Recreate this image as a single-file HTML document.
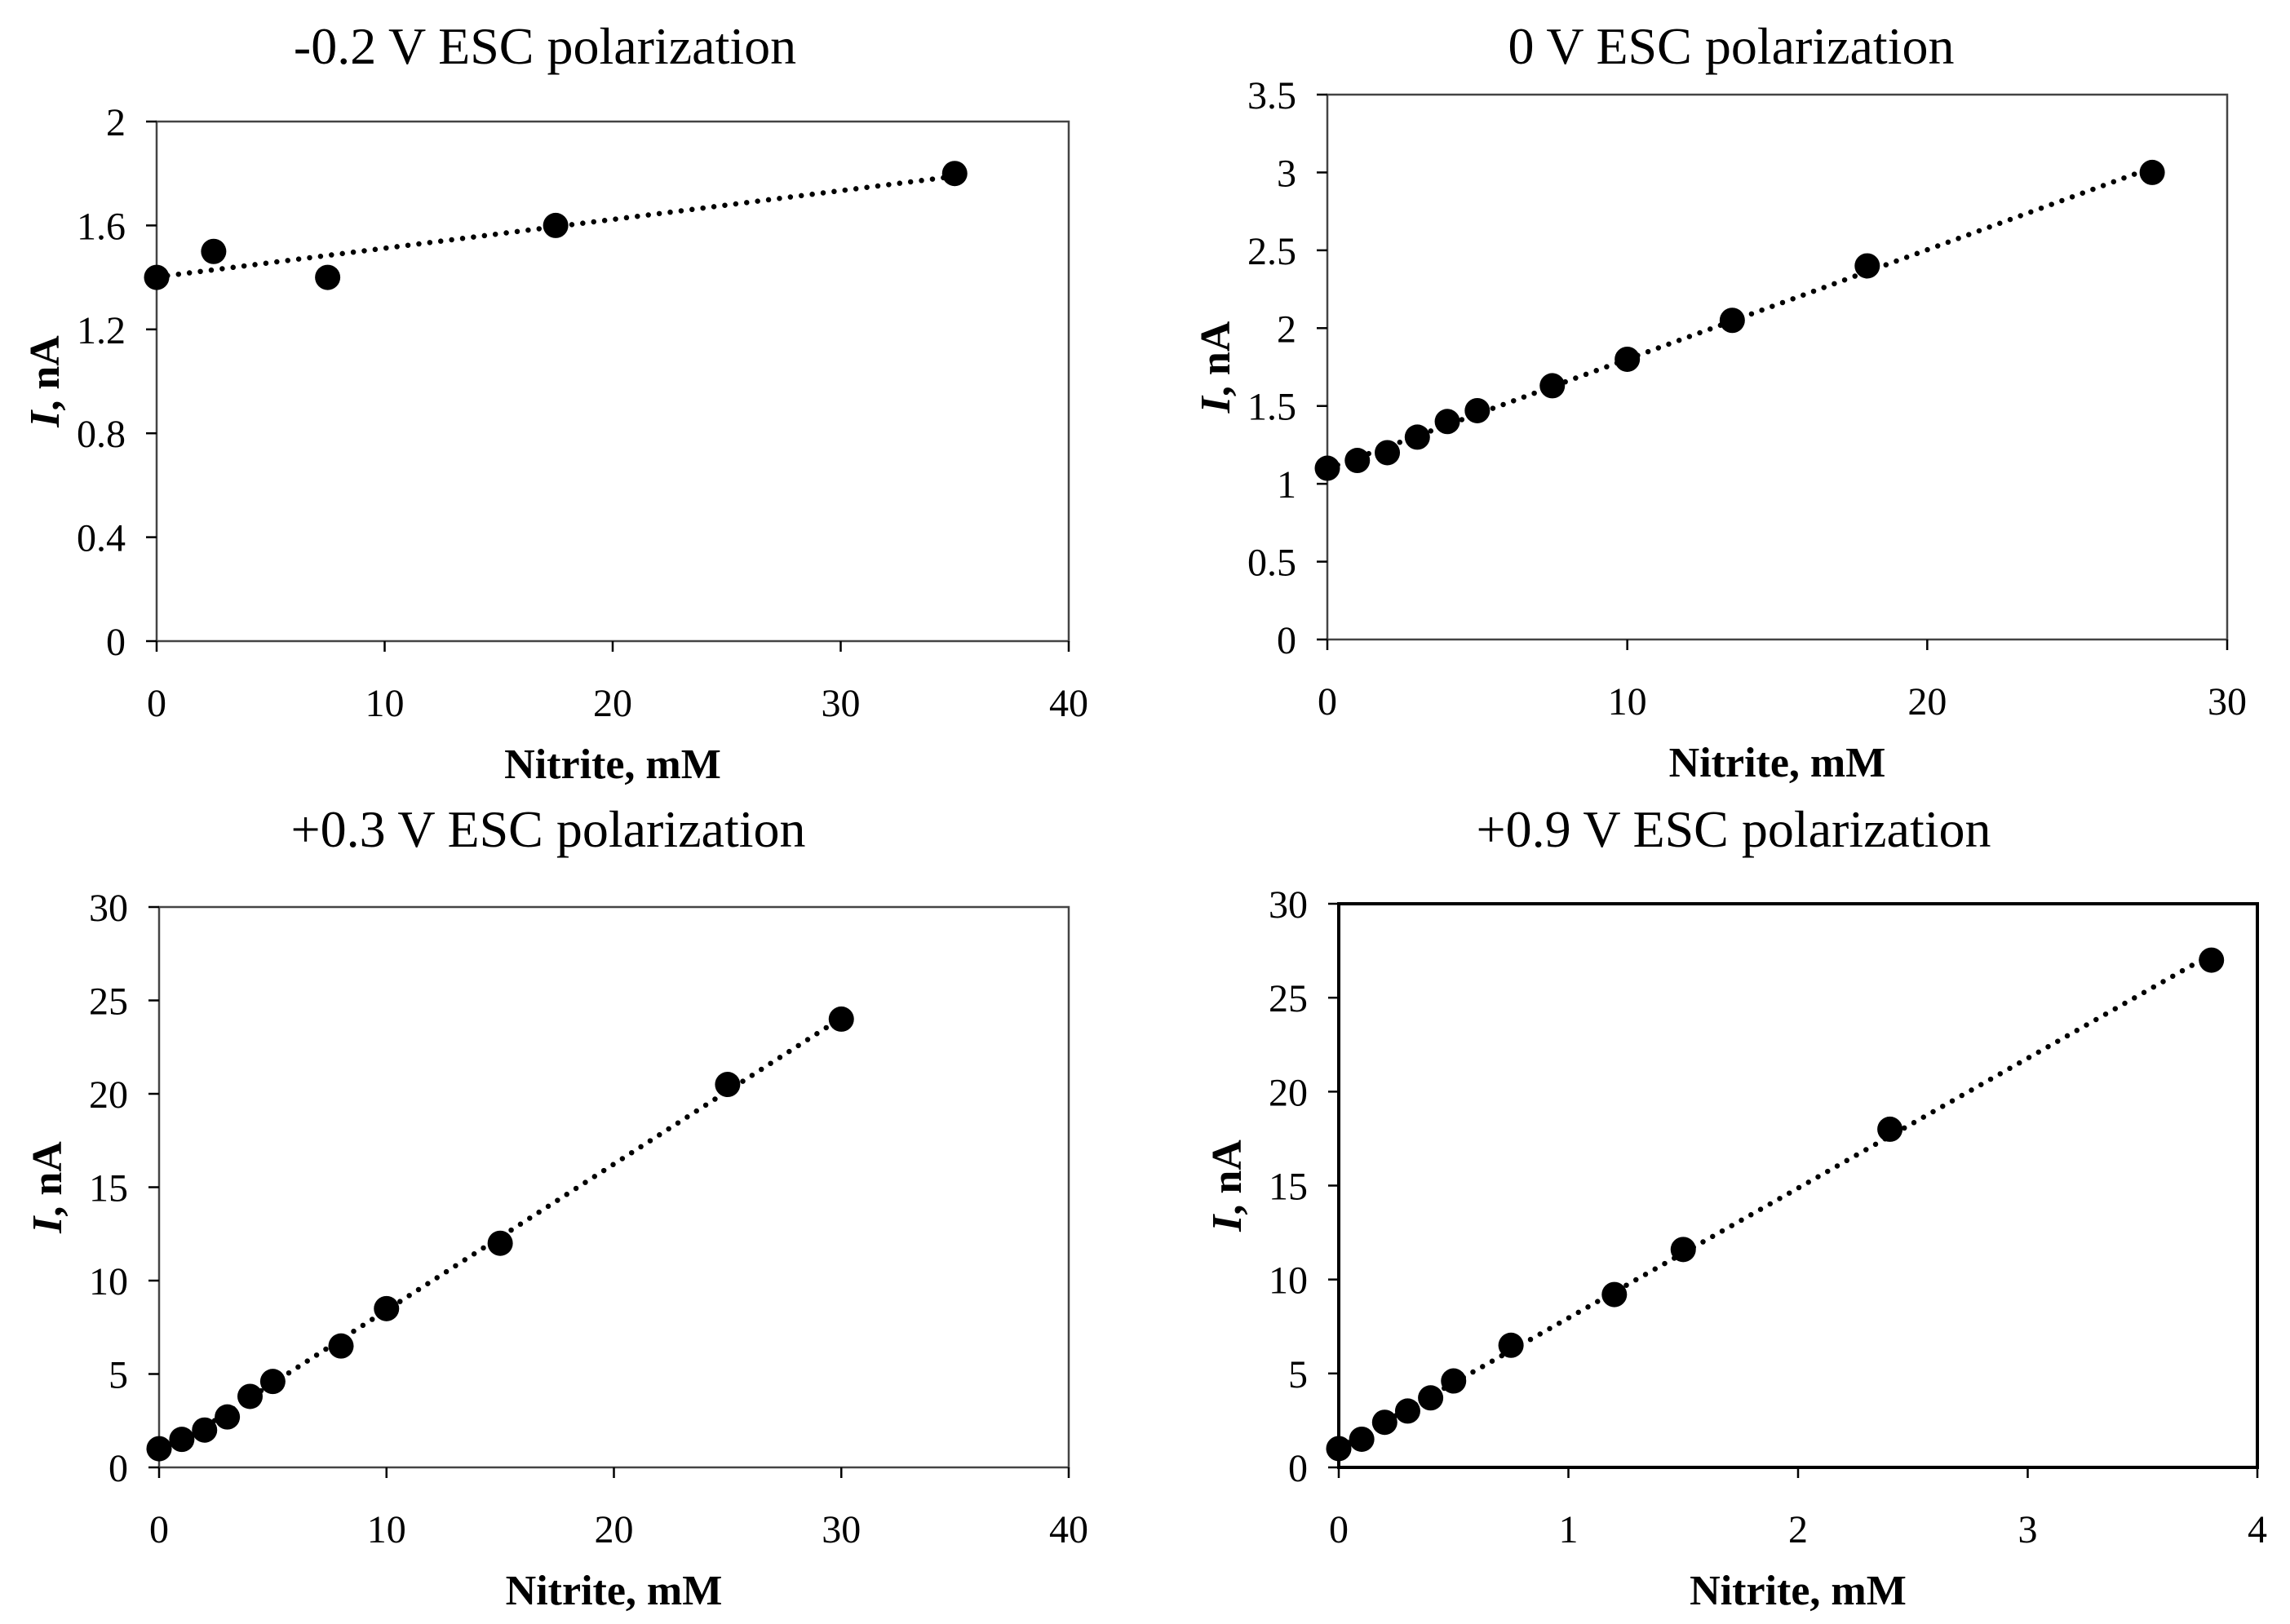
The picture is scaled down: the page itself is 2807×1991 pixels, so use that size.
<!DOCTYPE html>
<html><head><meta charset="utf-8"><style>
html,body{margin:0;padding:0;background:#fff;}
svg{display:block;}
text{font-family:"Liberation Serif",serif;fill:#000;}
</style></head><body>
<svg id="fig" width="2807" height="1991" viewBox="0 0 2807 1991" xmlns="http://www.w3.org/2000/svg"></svg>
<script>
// Panel A: -0.2 V
const xA = [0, 2.5, 7.5, 17.5, 35];
const yA = [1.4, 1.5, 1.4, 1.6, 1.8];
const xTicksA = [0, 10, 20, 30, 40];
const yTicksA = [0, 0.4, 0.8, 1.2, 1.6, 2];
// Panel B: 0 V
const xB = [0, 1, 2, 3, 4, 5, 7.5, 10, 13.5, 18, 27.5];
const yB = [1.1, 1.15, 1.2, 1.3, 1.4, 1.47, 1.63, 1.8, 2.05, 2.4, 3.0];
const xTicksB = [0, 10, 20, 30];
const yTicksB = [0, 0.5, 1, 1.5, 2, 2.5, 3, 3.5];
// Panel C: +0.3 V
const xC = [0, 1, 2, 3, 4, 5, 8, 10, 15, 25, 30];
const yC = [1, 1.5, 2, 2.7, 3.8, 4.6, 6.5, 8.5, 12, 20.5, 24];
const xTicksC = [0, 10, 20, 30, 40];
const yTicksC = [0, 5, 10, 15, 20, 25, 30];
// Panel D: +0.9 V
const xD = [0, 0.1, 0.2, 0.3, 0.4, 0.5, 0.75, 1.2, 1.5, 2.4, 3.8];
const yD = [1, 1.5, 2.4, 3, 3.7, 4.6, 6.5, 9.2, 11.6, 18, 27];
const xTicksD = [0, 1, 2, 3, 4];
const yTicksD = [0, 5, 10, 15, 20, 25, 30];

const NS = "http://www.w3.org/2000/svg";
const svg = document.getElementById('fig');
function mk(tag, attrs, parent) {
  const e = document.createElementNS(NS, tag);
  for (const k in attrs) e.setAttribute(k, attrs[k]);
  (parent || svg).appendChild(e);
  return e;
}

function panel(key, title, titleX, titleY, box, xs, ys, xt, yt, frameW) {
  const g = mk('g', {});
  
  
  const [L, T, R, B] = box;
  const xmin = xt[0], xmax = xt[xt.length - 1], ymin = yt[0], ymax = yt[yt.length - 1];
  const sx = v => L + (v - xmin) / (xmax - xmin) * (R - L);
  const sy = v => B - (v - ymin) / (ymax - ymin) * (B - T);

  const tt = mk('text', {x: titleX, y: titleY, 'font-size': 64, 'text-anchor': 'middle'}, g);
  tt.textContent = title;
  
  

  const fr = mk('rect', {x: L, y: T, width: R - L, height: B - T, fill: 'none', stroke: frameW > 3 ? '#000' : '#444', 'stroke-width': frameW}, g);
  
  

  xt.forEach(v => {
    const X = sx(v);
    const tk = mk('line', {x1: X, x2: X, y1: B, y2: B + 13, stroke: '#000', 'stroke-width': 2.5}, g);
    
    
    const lb = mk('text', {x: X, y: B + 92, 'font-size': 48, 'text-anchor': 'middle'}, g);
    lb.textContent = v;
    
    
  });
  yt.forEach(v => {
    const Y = sy(v);
    const tk = mk('line', {x1: L - 13, x2: L, y1: Y, y2: Y, stroke: '#000', 'stroke-width': 2.5}, g);
    
    
    const lb = mk('text', {x: L - 38, y: Y + 17, 'font-size': 48, 'text-anchor': 'end'}, g);
    lb.textContent = v;
    
    
  });

  const xl = mk('text', {x: (L + R) / 2, y: B + 168, 'font-size': 52, 'font-weight': 'bold', 'text-anchor': 'middle'}, g);
  xl.textContent = 'Nitrite, mM';
  
  

  const yx = L - 120, yy = (T + B) / 2;
  const yl = mk('text', {x: yx, y: yy, 'font-size': 52, 'font-weight': 'bold', 'text-anchor': 'middle', transform: `rotate(-90 ${yx} ${yy})`}, g);
  const it = mk('tspan', {'font-style': 'italic'}, yl); it.textContent = 'I';
  const rs = mk('tspan', {}, yl); rs.textContent = ', nA';
  
  

  const n = xs.length;
  const mx = xs.reduce((a, b) => a + b, 0) / n, my = ys.reduce((a, b) => a + b, 0) / n;
  let num = 0, den = 0;
  for (let i = 0; i < n; i++) { num += (xs[i] - mx) * (ys[i] - my); den += (xs[i] - mx) ** 2; }
  const m = num / den, c = my - m * mx;
  const x0 = Math.min(...xs), x1 = Math.max(...xs);
  const tl = mk('line', {x1: sx(x0), y1: sy(m * x0 + c), x2: sx(x1), y2: sy(m * x1 + c), stroke: '#000', 'stroke-width': 6.5, 'stroke-linecap': 'round', 'stroke-dasharray': '0 13.5'}, g);
  
  

  xs.forEach((v, i) => {
    const p = mk('circle', {cx: sx(v), cy: sy(ys[i]), r: 15.5, fill: '#000'}, g);
    
    
  });
}

panel('a', '-0.2 V ESC polarization', 668, 78, [192, 149, 1310, 786], xA, yA, xTicksA, yTicksA, 2.5);
panel('b', '0 V ESC polarization', 2122, 78, [1627, 116, 2730, 784], xB, yB, xTicksB, yTicksB, 2.5);
panel('c', '+0.3 V ESC polarization', 672, 1038, [195, 1112, 1310, 1799], xC, yC, xTicksC, yTicksC, 2.5);
panel('d', '+0.9 V ESC polarization', 2125, 1038, [1641, 1108, 2767, 1799], xD, yD, xTicksD, yTicksD, 4);
</script>
</body></html>
